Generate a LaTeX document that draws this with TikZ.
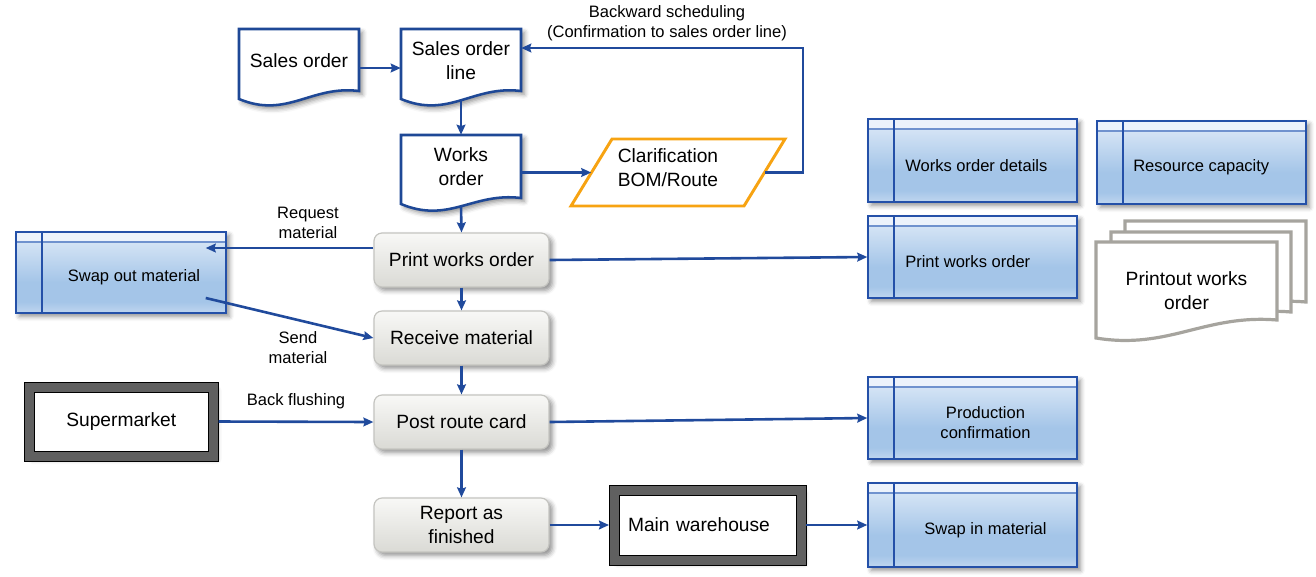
\documentclass[tikz,border=0pt]{standalone}
\usepackage{fontspec}
\setmainfont{Liberation Sans}
\usetikzlibrary{arrows.meta,calc,fit,shadows.blur}

\definecolor{arrblue}{RGB}{32,74,156}
\definecolor{docblue}{RGB}{30,72,150}
\definecolor{bline}{RGB}{36,80,168}
\definecolor{bhead}{RGB}{236,242,251}
\definecolor{bheadline}{RGB}{112,146,206}
\definecolor{bT}{RGB}{224,235,248}
\definecolor{bM}{RGB}{164,197,232}
\definecolor{bB}{RGB}{192,214,239}
\definecolor{gT}{RGB}{248,248,246}
\definecolor{gB}{RGB}{218,218,213}
\definecolor{gline}{RGB}{196,196,192}
\definecolor{orng}{RGB}{247,163,18}
\definecolor{gdoc}{RGB}{166,164,158}
\definecolor{dkgray}{RGB}{96,96,96}

\pgfdeclareverticalshading{bluebody}{100bp}{color(0bp)=(bB); color(25bp)=(bB); color(32bp)=(bM); color(44bp)=(bM); color(75bp)=(bT); color(100bp)=(bT)}
\pgfdeclareverticalshading{graybody}{100bp}{color(0bp)=(gB); color(25bp)=(gB); color(75bp)=(gT); color(100bp)=(gT)}

\newcommand\mainfs{\fontsize{14.4}{18}\selectfont}
\newcommand\smallfs{\fontsize{12.4}{15}\selectfont}

% document shape: [style]{x1}{top}{x2}{left bottom}{right bottom}{dip}
\newcommand\docshape[7][]{%
  \path[#1] (#2,#5) -- (#2,#3) -- (#4,#3) -- (#4,#6)
    .. controls ({#2+0.6*(#4-#2)},{#6-6}) and ({#2+0.4*(#4-#2)},{#5+#7}) .. (#2,#5) -- cycle;}

\begin{document}
\begin{tikzpicture}[x=0.75pt,y=-0.75pt,
  arr/.style={draw=arrblue, line width=1.95pt, -{Stealth[length=7.5pt,width=6.6pt,inset=1pt]}},
  shad/.style={blur shadow={shadow xshift=2.5pt, shadow yshift=-2.5pt, shadow blur radius=3.5pt, shadow opacity=45}},
  docb/.style={draw=docblue, line width=1.9pt, fill=white, shad},
  gdocs/.style={draw=gdoc, line width=2.4pt, fill=white},
  para/.style={draw=orng, line width=2.2pt, fill=white},
  doctxt/.style={inner sep=0, font=\mainfs, align=center, minimum width=90pt, minimum height=48pt},
  proc/.style={draw=gline, line width=0.9pt, rounded corners=6pt, shade, shading=graybody, shad,
    inner sep=0, font=\mainfs, align=center, minimum width=131.25pt, minimum height=40.5pt},
  bluebox/.style={draw=bline, line width=1.1pt, shade, shading=bluebody, shad, inner sep=0,
    path picture={
      \fill[bhead] (path picture bounding box.north west) rectangle ([yshift=-7.5pt]path picture bounding box.north east);
      \draw[bheadline, line width=1.3pt] ([yshift=-7.5pt]path picture bounding box.north west) -- ([yshift=-7.5pt]path picture bounding box.north east);
      \draw[bline, line width=1.1pt] ([xshift=19.5pt]path picture bounding box.north west) -- ([xshift=19.5pt]path picture bounding box.south west);
    }},
  btxt/.style={inner sep=0, font=\smallfs, align=center},
  whbox/.style={draw=dkgray, line width=7.5pt, fill=white, shad, font=\mainfs},
  thinblk/.style={draw=black, line width=0.6pt},
  lbl/.style={inner sep=0, font=\smallfs, align=center}
]
\useasboundingbox (0,0) rectangle (1316,576);

% ---------- document shapes ----------
\docshape[docb]{239}{29}{359}{99}{91}{20}
\docshape[docb]{401}{29}{521}{99}{91}{20}
\docshape[docb]{401}{135}{521}{204}{198}{20}
\docshape[gdocs]{1125}{221}{1306}{317}{302}{12}
\docshape[gdocs]{1111}{232}{1291}{328}{312}{12}
\docshape[gdocs]{1096}{242}{1277}{338}{320}{12}

\node[doctxt] (so) at (299,61) {Sales order};
\node[doctxt] (sol) at (461,61) {Sales order\\line};
\node[doctxt] (wo) at (461,167) {Works\\order};
\node[doctxt, minimum width=135.75pt, minimum height=72.75pt] (pwd) at (1186.5,290.5) {Printout works\\order};

% ---------- clarification ----------
\path[para] (612,139) -- (785,139) -- (744,206) -- (571,206) -- cycle;
\node[inner sep=0, fit={(571,139)(785,206)}] (clar) {};
\node[inner sep=0, font=\mainfs, align=center] (clart) at (668,168) {Clarification\\BOM/Route};

% ---------- process boxes ----------
\node[proc] (pwo) at (461.5,260) {Print works order};
\node[proc] (rm) at (461.5,338) {Receive material};
\node[proc] (prc) at (461.5,422) {Post route card};
\node[proc] (raf) at (461.5,525) {Report as\\finished};

% ---------- blue boxes ----------
\node[bluebox, fit={(868,119)(1077,202)}] (wodb) {};
\node[btxt, anchor=west] (wodt) at (905,166) {Works order details};
\node[bluebox, fit={(1097,121)(1306,204)}] (rcb) {};
\node[btxt, anchor=west] (rct) at (1133,167) {Resource capacity};
\node[bluebox, fit={(868,216)(1077,298)}] (pwob) {};
\node[btxt, anchor=west] (pwot) at (905,262) {Print works order};
\node[bluebox, fit={(868,377)(1077,459)}] (pcb) {};
\node[btxt] (pct) at (985.5,423) {Production\\confirmation};
\node[bluebox, fit={(868,483)(1077,567)}] (sib) {};
\node[btxt] (sit) at (985.5,530) {Swap in material};
\node[bluebox, fit={(16,232)(226,313)}] (sob) {};
\node[btxt] (sot) at (134,277) {Swap out material};

% ---------- stores ----------
\node[whbox, minimum width=138.4pt, minimum height=51.75pt] (sm) at (121.25,421.5) {Supermarket};
\draw[thinblk] (sm.north west) rectangle (sm.south east);
\draw[thinblk] ([shift={(7.5pt,-7.5pt)}]sm.north west) rectangle ([shift={(-7.5pt,7.5pt)}]sm.south east);
\node[whbox, minimum width=140.25pt, minimum height=52.5pt, inner xsep=10.5pt, text width=119.25pt, align=left] (mw) at (707.5,525) {Main warehouse};
\draw[thinblk] (mw.north west) rectangle (mw.south east);
\draw[thinblk] ([shift={(7.5pt,-7.5pt)}]mw.north west) rectangle ([shift={(-7.5pt,7.5pt)}]mw.south east);

% ---------- labels ----------
\node[lbl] (bsl) at (667,23) {Backward scheduling\\(Confirmation to sales order line)};
\node[lbl] (rql) at (308,223) {Request\\material};
\node[lbl] (sml) at (298,348) {Send\\material};
\node[lbl] (bfl) at (296,401) {Back flushing};

\coordinate (fbk) at (803,48);

% ---------- connectors ----------
\draw[arr] ($(so.east)+(0,7)$) -- ($(sol.west)+(0,7)$);
\draw[arr] ($(sol.south)+(0,7)$) -- ($(wo.north)+(0,0)$);
\draw[arr] ($(wo.east)+(0,5.5)$) -- ($(clar.west)+(20.5,0)$);
\draw[arr] ($(clar.east)+(-20.5,0)$) -| (fbk) -- (sol.east |- fbk);
\draw[arr] ($(wo.south)+(0,7)$) -- (pwo.north);
\draw[arr] (pwo.south) -- (rm.north);
\draw[arr] (rm.south) -- (prc.north);
\draw[arr] (prc.south) -- (raf.north);
\draw[arr] ($(pwo.west)+(0,-12)$) -- ($(sob.east)+(-21,-24.5)$);
\draw[arr] ($(sob.east)+(-21,25.5)$) -- (rm.west);
\draw[arr] (sm.east) -- (prc.west);
\draw[arr] (pwo.east) -- (pwob.west);
\draw[arr] (prc.east) -- (pcb.west);
\draw[arr] (raf.east) -- (mw.west);
\draw[arr] (mw.east) -- (sib.west);
\end{tikzpicture}
\end{document}
